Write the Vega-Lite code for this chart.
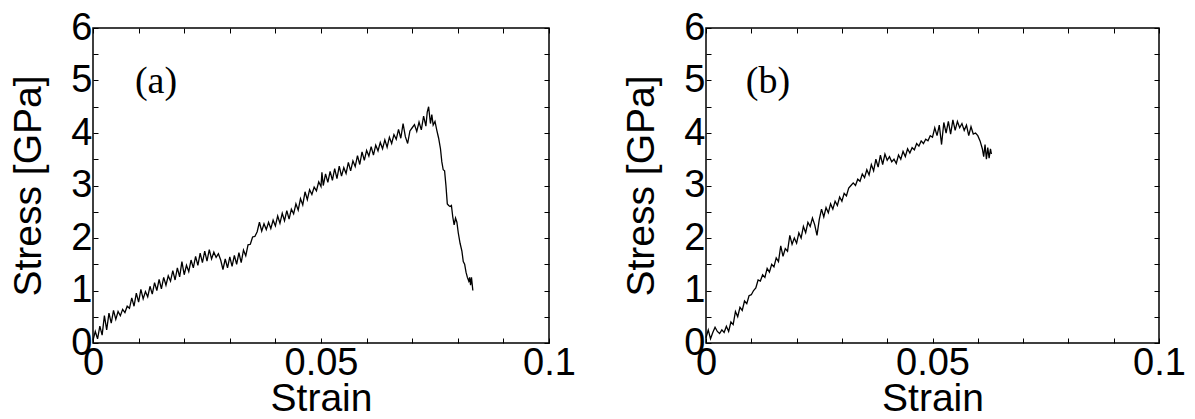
{
  "$schema": "https://vega.github.io/schema/vega-lite/v6.json",
  "background": "white",
  "padding": {"left": 9, "top": 8, "right": 5, "bottom": 5},
  "datasets": {
    "a": [
      {"strain": 0.0000, "stress": 0.05}, {"strain": 0.0005, "stress": 0.22}, {"strain": 0.0010, "stress": 0.08}, {"strain": 0.0015, "stress": 0.32},
      {"strain": 0.0020, "stress": 0.15}, {"strain": 0.0025, "stress": 0.52}, {"strain": 0.0030, "stress": 0.25}, {"strain": 0.0035, "stress": 0.57},
      {"strain": 0.0040, "stress": 0.38}, {"strain": 0.0045, "stress": 0.62}, {"strain": 0.0050, "stress": 0.45}, {"strain": 0.0055, "stress": 0.60},
      {"strain": 0.0060, "stress": 0.52}, {"strain": 0.0065, "stress": 0.64}, {"strain": 0.0070, "stress": 0.58}, {"strain": 0.0075, "stress": 0.70},
      {"strain": 0.0080, "stress": 0.66}, {"strain": 0.0085, "stress": 0.86}, {"strain": 0.0090, "stress": 0.70}, {"strain": 0.0095, "stress": 0.95},
      {"strain": 0.0100, "stress": 0.78}, {"strain": 0.0105, "stress": 1.02}, {"strain": 0.0110, "stress": 0.84}, {"strain": 0.0115, "stress": 0.98},
      {"strain": 0.0120, "stress": 0.88}, {"strain": 0.0125, "stress": 1.08}, {"strain": 0.0130, "stress": 0.93}, {"strain": 0.0135, "stress": 1.15},
      {"strain": 0.0140, "stress": 1.00}, {"strain": 0.0145, "stress": 1.21}, {"strain": 0.0150, "stress": 1.03}, {"strain": 0.0155, "stress": 1.25},
      {"strain": 0.0160, "stress": 1.10}, {"strain": 0.0165, "stress": 1.28}, {"strain": 0.0170, "stress": 1.18}, {"strain": 0.0175, "stress": 1.38},
      {"strain": 0.0180, "stress": 1.20}, {"strain": 0.0185, "stress": 1.43}, {"strain": 0.0190, "stress": 1.26}, {"strain": 0.0195, "stress": 1.55},
      {"strain": 0.0200, "stress": 1.30}, {"strain": 0.0205, "stress": 1.48}, {"strain": 0.0210, "stress": 1.36}, {"strain": 0.0215, "stress": 1.58},
      {"strain": 0.0220, "stress": 1.43}, {"strain": 0.0225, "stress": 1.65}, {"strain": 0.0230, "stress": 1.48}, {"strain": 0.0235, "stress": 1.71},
      {"strain": 0.0240, "stress": 1.53}, {"strain": 0.0245, "stress": 1.75}, {"strain": 0.0250, "stress": 1.56}, {"strain": 0.0255, "stress": 1.78},
      {"strain": 0.0260, "stress": 1.60}, {"strain": 0.0265, "stress": 1.73}, {"strain": 0.0270, "stress": 1.63}, {"strain": 0.0275, "stress": 1.70},
      {"strain": 0.0280, "stress": 1.58}, {"strain": 0.0285, "stress": 1.40}, {"strain": 0.0290, "stress": 1.60}, {"strain": 0.0295, "stress": 1.43},
      {"strain": 0.0300, "stress": 1.64}, {"strain": 0.0305, "stress": 1.46}, {"strain": 0.0310, "stress": 1.67}, {"strain": 0.0315, "stress": 1.50},
      {"strain": 0.0320, "stress": 1.72}, {"strain": 0.0325, "stress": 1.53}, {"strain": 0.0330, "stress": 1.77}, {"strain": 0.0335, "stress": 1.66},
      {"strain": 0.0340, "stress": 1.87}, {"strain": 0.0345, "stress": 1.88}, {"strain": 0.0350, "stress": 2.02}, {"strain": 0.0355, "stress": 2.03},
      {"strain": 0.0360, "stress": 2.12}, {"strain": 0.0365, "stress": 2.30}, {"strain": 0.0370, "stress": 2.13}, {"strain": 0.0375, "stress": 2.27},
      {"strain": 0.0380, "stress": 2.16}, {"strain": 0.0385, "stress": 2.30}, {"strain": 0.0390, "stress": 2.18}, {"strain": 0.0395, "stress": 2.34},
      {"strain": 0.0400, "stress": 2.23}, {"strain": 0.0405, "stress": 2.42}, {"strain": 0.0410, "stress": 2.28}, {"strain": 0.0415, "stress": 2.47},
      {"strain": 0.0420, "stress": 2.33}, {"strain": 0.0425, "stress": 2.52}, {"strain": 0.0430, "stress": 2.36}, {"strain": 0.0435, "stress": 2.55},
      {"strain": 0.0440, "stress": 2.46}, {"strain": 0.0445, "stress": 2.65}, {"strain": 0.0450, "stress": 2.53}, {"strain": 0.0455, "stress": 2.75},
      {"strain": 0.0460, "stress": 2.63}, {"strain": 0.0465, "stress": 2.88}, {"strain": 0.0470, "stress": 2.73}, {"strain": 0.0475, "stress": 2.92},
      {"strain": 0.0480, "stress": 2.83}, {"strain": 0.0485, "stress": 2.97}, {"strain": 0.0490, "stress": 2.90}, {"strain": 0.0495, "stress": 3.07},
      {"strain": 0.0500, "stress": 2.98}, {"strain": 0.0502, "stress": 3.25}, {"strain": 0.0505, "stress": 3.00}, {"strain": 0.0510, "stress": 3.22},
      {"strain": 0.0515, "stress": 3.06}, {"strain": 0.0520, "stress": 3.27}, {"strain": 0.0525, "stress": 3.10}, {"strain": 0.0530, "stress": 3.32},
      {"strain": 0.0535, "stress": 3.13}, {"strain": 0.0540, "stress": 3.37}, {"strain": 0.0545, "stress": 3.18}, {"strain": 0.0550, "stress": 3.34},
      {"strain": 0.0555, "stress": 3.23}, {"strain": 0.0560, "stress": 3.44}, {"strain": 0.0565, "stress": 3.28}, {"strain": 0.0570, "stress": 3.47},
      {"strain": 0.0575, "stress": 3.36}, {"strain": 0.0580, "stress": 3.57}, {"strain": 0.0585, "stress": 3.40}, {"strain": 0.0590, "stress": 3.64},
      {"strain": 0.0595, "stress": 3.48}, {"strain": 0.0600, "stress": 3.67}, {"strain": 0.0605, "stress": 3.56}, {"strain": 0.0610, "stress": 3.74},
      {"strain": 0.0615, "stress": 3.58}, {"strain": 0.0620, "stress": 3.77}, {"strain": 0.0625, "stress": 3.66}, {"strain": 0.0630, "stress": 3.82},
      {"strain": 0.0635, "stress": 3.70}, {"strain": 0.0640, "stress": 3.87}, {"strain": 0.0645, "stress": 3.73}, {"strain": 0.0650, "stress": 3.92},
      {"strain": 0.0655, "stress": 3.80}, {"strain": 0.0660, "stress": 3.97}, {"strain": 0.0665, "stress": 3.88}, {"strain": 0.0670, "stress": 4.07},
      {"strain": 0.0675, "stress": 3.90}, {"strain": 0.0680, "stress": 4.18}, {"strain": 0.0685, "stress": 3.93}, {"strain": 0.0690, "stress": 3.80},
      {"strain": 0.0695, "stress": 4.04}, {"strain": 0.0700, "stress": 4.10}, {"strain": 0.0705, "stress": 4.16}, {"strain": 0.0710, "stress": 4.03},
      {"strain": 0.0715, "stress": 4.21}, {"strain": 0.0720, "stress": 4.06}, {"strain": 0.0725, "stress": 4.32}, {"strain": 0.0730, "stress": 4.13},
      {"strain": 0.0733, "stress": 4.40}, {"strain": 0.0736, "stress": 4.50}, {"strain": 0.0740, "stress": 4.18}, {"strain": 0.0743, "stress": 4.35},
      {"strain": 0.0746, "stress": 4.15}, {"strain": 0.0750, "stress": 4.22}, {"strain": 0.0754, "stress": 4.05}, {"strain": 0.0758, "stress": 3.90},
      {"strain": 0.0762, "stress": 3.70}, {"strain": 0.0765, "stress": 3.45}, {"strain": 0.0768, "stress": 3.30}, {"strain": 0.0771, "stress": 3.28},
      {"strain": 0.0774, "stress": 3.00}, {"strain": 0.0777, "stress": 2.65}, {"strain": 0.0780, "stress": 2.62}, {"strain": 0.0783, "stress": 2.60},
      {"strain": 0.0786, "stress": 2.62}, {"strain": 0.0789, "stress": 2.40}, {"strain": 0.0792, "stress": 2.25}, {"strain": 0.0795, "stress": 2.38},
      {"strain": 0.0798, "stress": 2.30}, {"strain": 0.0801, "stress": 2.10}, {"strain": 0.0805, "stress": 1.90}, {"strain": 0.0809, "stress": 1.75},
      {"strain": 0.0812, "stress": 1.55}, {"strain": 0.0815, "stress": 1.50}, {"strain": 0.0818, "stress": 1.35}, {"strain": 0.0821, "stress": 1.25},
      {"strain": 0.0824, "stress": 1.18}, {"strain": 0.0826, "stress": 1.25}, {"strain": 0.0828, "stress": 1.10}, {"strain": 0.0830, "stress": 1.25},
      {"strain": 0.0833, "stress": 1.00}
    ],
    "b": [
      {"strain": 0.0000, "stress": 0.10}, {"strain": 0.0005, "stress": 0.25}, {"strain": 0.0010, "stress": 0.08}, {"strain": 0.0015, "stress": 0.20},
      {"strain": 0.0020, "stress": 0.30}, {"strain": 0.0025, "stress": 0.22}, {"strain": 0.0030, "stress": 0.18}, {"strain": 0.0035, "stress": 0.25},
      {"strain": 0.0040, "stress": 0.20}, {"strain": 0.0045, "stress": 0.32}, {"strain": 0.0050, "stress": 0.22}, {"strain": 0.0055, "stress": 0.40},
      {"strain": 0.0060, "stress": 0.35}, {"strain": 0.0065, "stress": 0.60}, {"strain": 0.0070, "stress": 0.50}, {"strain": 0.0075, "stress": 0.68},
      {"strain": 0.0080, "stress": 0.62}, {"strain": 0.0085, "stress": 0.80}, {"strain": 0.0090, "stress": 0.75}, {"strain": 0.0095, "stress": 0.90},
      {"strain": 0.0100, "stress": 0.92}, {"strain": 0.0105, "stress": 1.00}, {"strain": 0.0110, "stress": 1.05}, {"strain": 0.0115, "stress": 1.20},
      {"strain": 0.0120, "stress": 1.18}, {"strain": 0.0125, "stress": 1.30}, {"strain": 0.0130, "stress": 1.25}, {"strain": 0.0135, "stress": 1.42},
      {"strain": 0.0140, "stress": 1.35}, {"strain": 0.0145, "stress": 1.50}, {"strain": 0.0150, "stress": 1.45}, {"strain": 0.0155, "stress": 1.62},
      {"strain": 0.0160, "stress": 1.55}, {"strain": 0.0165, "stress": 1.85}, {"strain": 0.0170, "stress": 1.65}, {"strain": 0.0175, "stress": 1.80},
      {"strain": 0.0180, "stress": 1.75}, {"strain": 0.0185, "stress": 2.05}, {"strain": 0.0190, "stress": 1.88}, {"strain": 0.0195, "stress": 2.00},
      {"strain": 0.0200, "stress": 1.90}, {"strain": 0.0205, "stress": 2.10}, {"strain": 0.0210, "stress": 2.00}, {"strain": 0.0215, "stress": 2.22},
      {"strain": 0.0220, "stress": 2.10}, {"strain": 0.0225, "stress": 2.30}, {"strain": 0.0230, "stress": 2.22}, {"strain": 0.0235, "stress": 2.38},
      {"strain": 0.0240, "stress": 2.25}, {"strain": 0.0245, "stress": 2.05}, {"strain": 0.0250, "stress": 2.35}, {"strain": 0.0255, "stress": 2.55},
      {"strain": 0.0260, "stress": 2.40}, {"strain": 0.0265, "stress": 2.58}, {"strain": 0.0270, "stress": 2.48}, {"strain": 0.0275, "stress": 2.65},
      {"strain": 0.0280, "stress": 2.55}, {"strain": 0.0285, "stress": 2.70}, {"strain": 0.0290, "stress": 2.62}, {"strain": 0.0295, "stress": 2.78},
      {"strain": 0.0300, "stress": 2.70}, {"strain": 0.0305, "stress": 2.85}, {"strain": 0.0310, "stress": 2.80}, {"strain": 0.0315, "stress": 2.95},
      {"strain": 0.0320, "stress": 3.00}, {"strain": 0.0325, "stress": 3.05}, {"strain": 0.0330, "stress": 3.00}, {"strain": 0.0335, "stress": 3.12},
      {"strain": 0.0340, "stress": 3.08}, {"strain": 0.0345, "stress": 3.22}, {"strain": 0.0350, "stress": 3.15}, {"strain": 0.0355, "stress": 3.30},
      {"strain": 0.0360, "stress": 3.20}, {"strain": 0.0365, "stress": 3.40}, {"strain": 0.0370, "stress": 3.28}, {"strain": 0.0375, "stress": 3.50},
      {"strain": 0.0380, "stress": 3.35}, {"strain": 0.0385, "stress": 3.58}, {"strain": 0.0390, "stress": 3.40}, {"strain": 0.0395, "stress": 3.60},
      {"strain": 0.0400, "stress": 3.48}, {"strain": 0.0405, "stress": 3.55}, {"strain": 0.0410, "stress": 3.45}, {"strain": 0.0415, "stress": 3.50},
      {"strain": 0.0420, "stress": 3.42}, {"strain": 0.0425, "stress": 3.58}, {"strain": 0.0430, "stress": 3.50}, {"strain": 0.0435, "stress": 3.65},
      {"strain": 0.0440, "stress": 3.55}, {"strain": 0.0445, "stress": 3.70}, {"strain": 0.0450, "stress": 3.62}, {"strain": 0.0455, "stress": 3.72},
      {"strain": 0.0460, "stress": 3.68}, {"strain": 0.0465, "stress": 3.80}, {"strain": 0.0470, "stress": 3.75}, {"strain": 0.0475, "stress": 3.85},
      {"strain": 0.0480, "stress": 3.80}, {"strain": 0.0485, "stress": 3.88}, {"strain": 0.0490, "stress": 3.85}, {"strain": 0.0495, "stress": 3.95},
      {"strain": 0.0500, "stress": 3.92}, {"strain": 0.0505, "stress": 4.10}, {"strain": 0.0510, "stress": 3.95}, {"strain": 0.0515, "stress": 4.15},
      {"strain": 0.0520, "stress": 3.78}, {"strain": 0.0525, "stress": 4.20}, {"strain": 0.0530, "stress": 4.00}, {"strain": 0.0535, "stress": 4.22},
      {"strain": 0.0540, "stress": 3.98}, {"strain": 0.0545, "stress": 4.25}, {"strain": 0.0550, "stress": 4.05}, {"strain": 0.0555, "stress": 4.22},
      {"strain": 0.0560, "stress": 4.10}, {"strain": 0.0565, "stress": 4.18}, {"strain": 0.0570, "stress": 4.05}, {"strain": 0.0575, "stress": 4.15},
      {"strain": 0.0580, "stress": 3.95}, {"strain": 0.0585, "stress": 4.12}, {"strain": 0.0590, "stress": 3.98}, {"strain": 0.0595, "stress": 4.00},
      {"strain": 0.0600, "stress": 3.95}, {"strain": 0.0605, "stress": 3.85}, {"strain": 0.0610, "stress": 3.70}, {"strain": 0.0613, "stress": 3.55},
      {"strain": 0.0616, "stress": 3.78}, {"strain": 0.0619, "stress": 3.50}, {"strain": 0.0622, "stress": 3.72}, {"strain": 0.0625, "stress": 3.52},
      {"strain": 0.0628, "stress": 3.70}, {"strain": 0.0630, "stress": 3.60}
    ],
    "labels": [{"panel": "a", "text": "(a)"}, {"panel": "b", "text": "(b)"}]
  },
  "bounds": "flush",
  "spacing": 157,
  "hconcat": [
    {
      "width": 456,
      "height": 315,
      "data": {"name": "a"},
      "layer": [
        {
          "mark": {"type": "line", "color": "black", "strokeWidth": 1.3},
          "encoding": {
            "x": {"field": "strain", "type": "quantitative", "scale": {"domain": [0, 0.1], "nice": false, "zero": false},
                  "axis": {"orient": "bottom", "title": "Strain", "values": [0, 0.01, 0.02, 0.03, 0.04, 0.05, 0.06, 0.07, 0.08, 0.09, 0.1], "format": ".2~f",
                           "labelExpr": "datum.label == '0' || datum.label == '0.05' || datum.label == '0.1' ? datum.label : ''"}},
            "y": {"field": "stress", "type": "quantitative", "scale": {"domain": [0, 6], "nice": false},
                  "axis": {"orient": "left", "title": "Stress [GPa]", "values": [0, 0.5, 1, 1.5, 2, 2.5, 3, 3.5, 4, 4.5, 5, 5.5, 6], "format": ".1~f",
                           "labelExpr": "datum.value % 1 == 0 ? datum.label : ''"}}
          }
        },
        {
          "mark": {"type": "line", "opacity": 0},
          "encoding": {
            "x": {"field": "strain", "type": "quantitative", "axis": {"orient": "top", "labels": false, "title": null, "values": [0, 0.01, 0.02, 0.03, 0.04, 0.05, 0.06, 0.07, 0.08, 0.09, 0.1]}},
            "y": {"field": "stress", "type": "quantitative", "axis": {"orient": "right", "labels": false, "title": null, "values": [0, 0.5, 1, 1.5, 2, 2.5, 3, 3.5, 4, 4.5, 5, 5.5, 6]}}
          }
        },
        {
          "data": {"name": "labels"},
          "transform": [{"filter": "datum.panel == 'a'"}],
          "mark": {"type": "text", "font": "Liberation Serif", "fontSize": 38, "fontWeight": "normal", "align": "left", "baseline": "middle", "fill": "black"},
          "encoding": {
            "x": {"datum": 0.0092, "axis": null},
            "y": {"datum": 4.98, "axis": null},
            "text": {"field": "text"}
          }
        }
      ],
      "resolve": {"axis": {"x": "independent", "y": "independent"}}
    },
    {
      "width": 453,
      "height": 315,
      "data": {"name": "b"},
      "layer": [
        {
          "mark": {"type": "line", "color": "black", "strokeWidth": 1.3},
          "encoding": {
            "x": {"field": "strain", "type": "quantitative", "scale": {"domain": [0, 0.1], "nice": false, "zero": false},
                  "axis": {"orient": "bottom", "title": "Strain", "values": [0, 0.01, 0.02, 0.03, 0.04, 0.05, 0.06, 0.07, 0.08, 0.09, 0.1], "format": ".2~f",
                           "labelExpr": "datum.label == '0' || datum.label == '0.05' || datum.label == '0.1' ? datum.label : ''"}},
            "y": {"field": "stress", "type": "quantitative", "scale": {"domain": [0, 6], "nice": false},
                  "axis": {"orient": "left", "title": "Stress [GPa]", "values": [0, 0.5, 1, 1.5, 2, 2.5, 3, 3.5, 4, 4.5, 5, 5.5, 6], "format": ".1~f",
                           "labelExpr": "datum.value % 1 == 0 ? datum.label : ''"}}
          }
        },
        {
          "mark": {"type": "line", "opacity": 0},
          "encoding": {
            "x": {"field": "strain", "type": "quantitative", "axis": {"orient": "top", "labels": false, "title": null, "values": [0, 0.01, 0.02, 0.03, 0.04, 0.05, 0.06, 0.07, 0.08, 0.09, 0.1]}},
            "y": {"field": "stress", "type": "quantitative", "axis": {"orient": "right", "labels": false, "title": null, "values": [0, 0.5, 1, 1.5, 2, 2.5, 3, 3.5, 4, 4.5, 5, 5.5, 6]}}
          }
        },
        {
          "data": {"name": "labels"},
          "transform": [{"filter": "datum.panel == 'b'"}],
          "mark": {"type": "text", "font": "Liberation Serif", "fontSize": 38, "fontWeight": "normal", "align": "left", "baseline": "middle", "fill": "black"},
          "encoding": {
            "x": {"datum": 0.0088, "axis": null},
            "y": {"datum": 4.98, "axis": null},
            "text": {"field": "text"}
          }
        }
      ],
      "resolve": {"axis": {"x": "independent", "y": "independent"}}
    }
  ],
  "config": {
    "view": {"stroke": "black", "strokeWidth": 1.5},
    "axis": {
      "domain": false,
      "grid": false,
      "ticks": true,
      "tickSize": -5,
      "tickColor": "black",
      "tickWidth": 1,
      "labelFont": "Liberation Sans",
      "labelFontSize": 38,
      "labelColor": "black",
      "labelFlush": false,
      "labelOverlap": false,
      "labelPadding": 8,
      "titleFont": "Liberation Sans",
      "titleFontSize": 39,
      "titleFontWeight": "normal",
      "titleColor": "black"
    },
    "axisX": {"labelPadding": 6, "titlePadding": -3},
    "axisY": {"labelPadding": 6, "titlePadding": 22}
  }
}
